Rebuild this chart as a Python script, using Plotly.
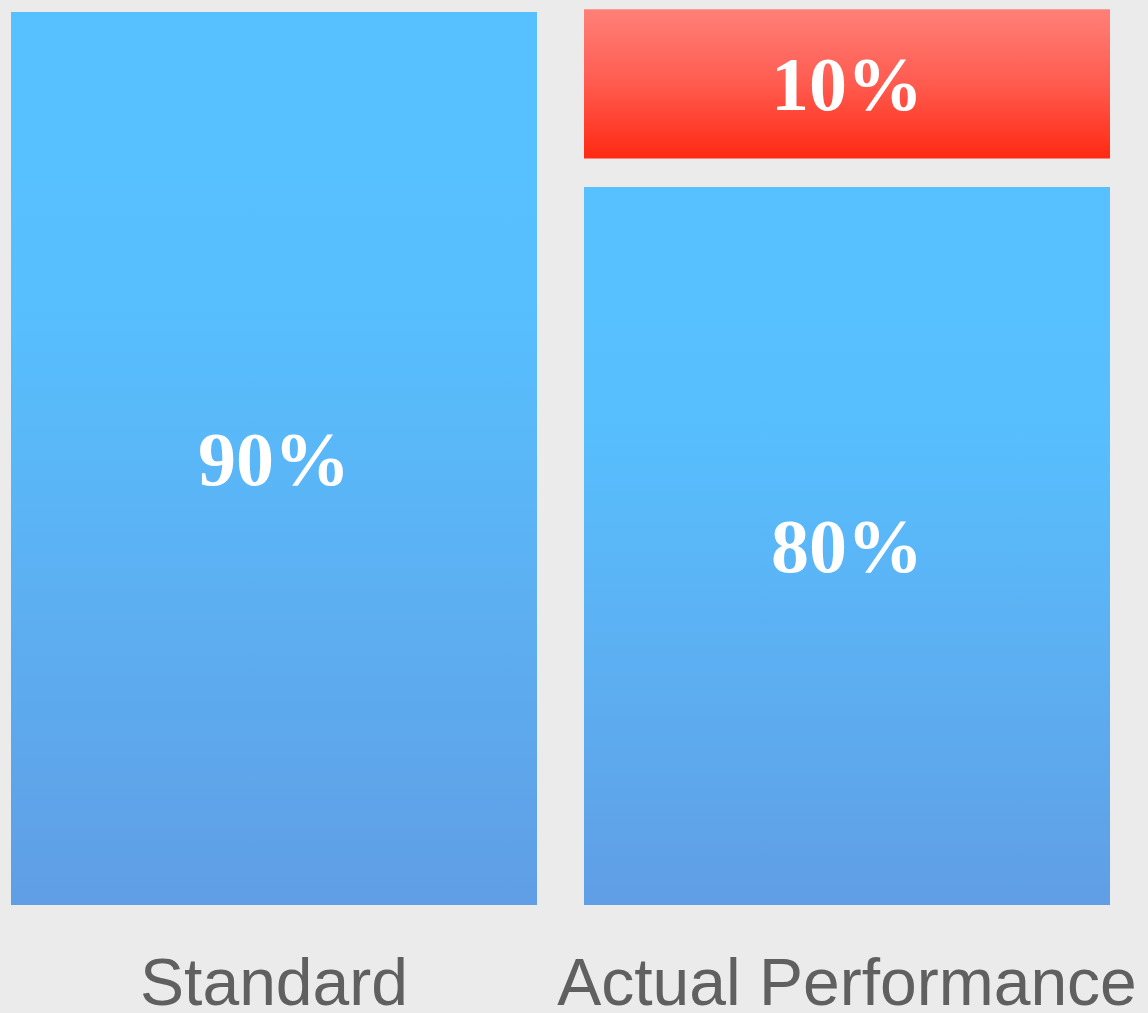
import plotly.graph_objects as go

# ---- data ----
categories = ["Standard", "Actual Performance"]
blue_heights = [100.0, 80.4]          # drawn height of the blue bars (axis units)
blue_labels = ["90%", "80%"]
red_category = ["Actual Performance"]
red_bases = [83.6]
red_tops = [100.3]
red_labels = ["10%"]

BAR_WIDTH = 0.918
BLUE_SCALE = [[0.0, "#609ee5"], [0.35, "#5cb0f2"], [0.68, "#57bffe"], [1.0, "#57c1ff"]]
RED_SCALE = [[0.0, "#ff2913"], [0.5, "#ff5b4f"], [1.0, "#ff8078"]]
LABEL_FONT = dict(family="Liberation Serif", size=76, color="white")

fig = go.Figure()

def add_bar(xc, y0, y1, scale):
    hw = BAR_WIDTH / 2
    fig.add_trace(go.Scatter(
        x=[xc - hw, xc + hw, xc + hw, xc - hw, xc - hw],
        y=[y0, y0, y1, y1, y0],
        mode="lines", line=dict(width=0),
        fill="toself",
        fillgradient=dict(type="vertical", colorscale=scale),
        hoverinfo="skip", showlegend=False,
    ))

for i, (h, lab) in enumerate(zip(blue_heights, blue_labels)):
    add_bar(i, 0, h, BLUE_SCALE)
    fig.add_annotation(x=i, y=h / 2, text="<b>" + lab + "</b>", showarrow=False,
                       font=LABEL_FONT, xanchor="center", yanchor="middle")

for cat, b, t, lab in zip(red_category, red_bases, red_tops, red_labels):
    i = categories.index(cat)
    add_bar(i, b, t, RED_SCALE)
    fig.add_annotation(x=i, y=(b + t) / 2, text="<b>" + lab + "</b>", showarrow=False,
                       font=LABEL_FONT, xanchor="center", yanchor="middle")

px_per_unit = 573.0
fig.update_layout(
    width=1148, height=1013,
    margin=dict(l=0, r=0, t=0, b=108, autoexpand=False),
    paper_bgcolor="#ebebeb", plot_bgcolor="#ebebeb",
    showlegend=False,
    xaxis=dict(range=[-274 / px_per_unit, (1148 - 274) / px_per_unit],
               tickvals=list(range(len(categories))), ticktext=categories,
               tickfont=dict(family="Liberation Sans, Arial", size=66, color="#606060"),
               showgrid=False, zeroline=False, showline=False, ticks="",
               ticklabelstandoff=33, fixedrange=True, automargin=False),
    yaxis=dict(range=[0, 905 / 8.93], visible=False, showgrid=False,
               zeroline=False, fixedrange=True, automargin=False),
)

fig.write_html(
    "out.html",
    config={"displayModeBar": False},
    post_script="document.body.style.margin='0';document.body.style.background='#ebebeb';"
                "document.body.style.overflow='hidden';",
)
